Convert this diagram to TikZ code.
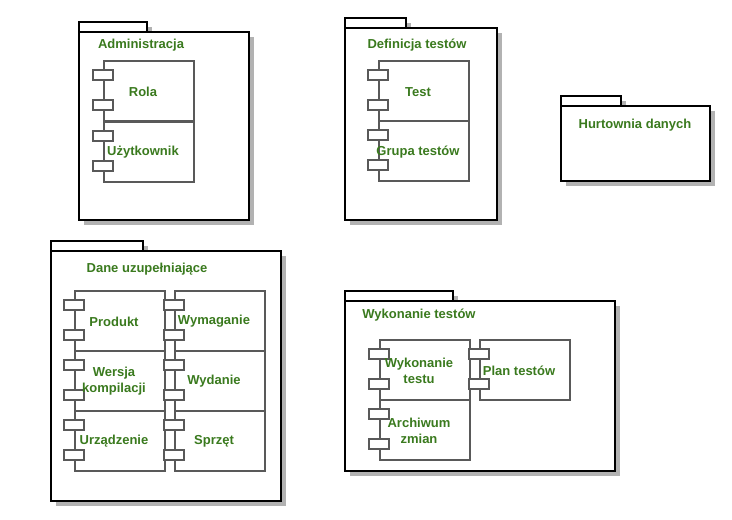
\documentclass[tikz,border=0pt]{standalone}
\usepackage{fontspec}
\setmainfont{Liberation Sans}
\usetikzlibrary{shapes.misc,shadows}
\definecolor{lblgreen}{HTML}{3A7A1E}

\begin{document}
\begin{tikzpicture}[x=0.75pt,y=-0.75pt,
		pkg/.style={draw,line width=1.5pt,fill=white,inner sep=0pt,anchor=north west,
			drop shadow={shadow xshift=3.5pt,shadow yshift=-3.5pt,fill=black!30,opacity=1}},
		comp/.style={draw=black!65,line width=1.2pt,fill=white,inner sep=0pt,anchor=north west,
			minimum width=67.5pt,minimum height=45pt},
		port/.style={draw=black!65,line width=1.2pt,fill=white,inner sep=0pt,
			minimum width=15pt,minimum height=7.5pt},
		lbl/.style={text=lblgreen,font=\bfseries\fontsize{9.75pt}{12pt}\selectfont,
			align=center,inner sep=0pt,yshift=-1.2pt}]
		\useasboundingbox (0,0) rectangle (732,520);
		\foreach \nm/\x/\y/\w/\h/\tw/\pname/\tx/\ty in {
			adm/78/31/170/188/68/Administracja/141/44,
			def/344/27/152/192/61/Definicja testów/417/43,
			hurt/560/105/149/75/60/Hurtownia danych/635/124,
			dane/50/250/230/250/92/Dane uzupełniające/147/268,
			wyk/344/300/270/170/108/Wykonanie testów/419/313}{
			\node[pkg,minimum width=\tw*0.75pt,minimum height=7.5pt] (\nm-tab) at (\x,\y-10) {};
			\node[pkg,minimum width=\w*0.75pt,minimum height=\h*0.75pt] (\nm) at (\x,\y) {};
			\node[lbl] (\nm-title) at (\tx,\ty) {\pname};
		}
		\foreach \nm/\x/\y/\txt in {
			rola/103/60/Rola, uzyt/103/121/Użytkownik,
			test/378/60/Test, grupa/378/120/Grupa testów,
			prod/74/290/Produkt, wers/74/350/{Wersja\\kompilacji}, urz/74/410/Urządzenie,
			wymag/174/290/Wymaganie, wyd/174/350/Wydanie, sprz/174/410/Sprzęt,
			wykt/379/339/{Wykonanie\\testu}, arch/379/399/{Archiwum\\zmian},
			plan/479/339/Plan testów}{
			\node[comp] (\nm) at (\x,\y) {};
			\node[port] (\nm-p1) at (\x,\y+15) {};
			\node[port] (\nm-p2) at (\x,\y+45) {};
			\node[lbl] (\nm-t) at (\x+40,\y+30) {\txt};
		}
	\end{tikzpicture}
\end{document}
